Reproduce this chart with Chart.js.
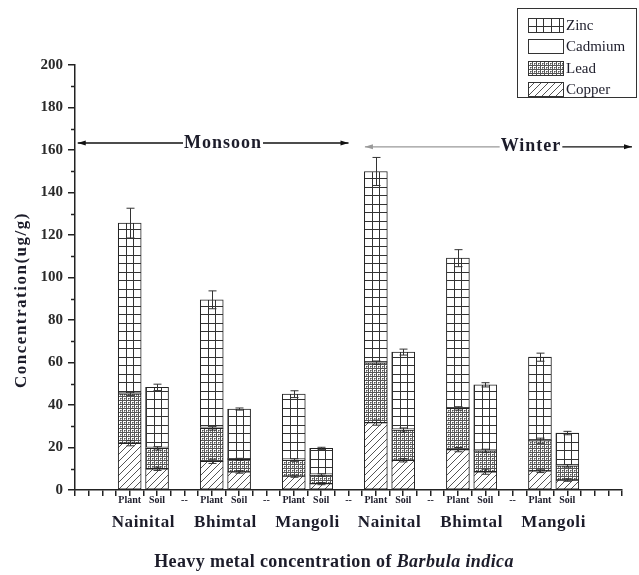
<!DOCTYPE html>
<html>
<head>
<meta charset="utf-8">
<script src="https://cdn.jsdelivr.net/npm/chart.js@4.4.1/dist/chart.umd.min.js"></script>
<style>
  body { margin: 0; background: #fff; }
  canvas { display: block; }
</style>
</head>
<body>
<canvas id="heavymetal" width="639" height="575"></canvas>
<script>
// data
const seasons = ['Monsoon', 'Winter'];
const sites = ['Nainital', 'Bhimtal', 'Mangoli', 'Nainital', 'Bhimtal', 'Mangoli'];
const samples = ['Plant', 'Soil'];
const yTicks = [0, 20, 40, 60, 80, 100, 120, 140, 160, 180, 200];

const copper = [22, 10, 13.5, 8.5, 6.5, 3, 31.7, 14, 19, 8.6, 9, 4.7];
const lead = [23.2, 9.6, 15.5, 5.9, 7.6, 4, 28.2, 14.2, 19.4, 9.8, 14.2, 6.7];
const cadmium = [0.4, 0.4, 0.4, 0.4, 0.4, 0.4, 0.4, 0.4, 0.4, 0.4, 0.4, 0.4];
const zinc = [80, 28.3, 60.1, 23.3, 30.6, 12.2, 89.6, 36.3, 70.3, 30.7, 38.9, 15];

const copperErr = [1.2, 0.8, 1, 0.6, 0.5, 0.5, 1.2, 0.8, 1, 1.2, 0.8, 0.6];
const leadErr = [0.8, 0.8, 0.8, 0.5, 0.6, 0.6, 0.8, 1, 0.8, 0.8, 1.2, 0.6];
const zincErr = [7, 1.5, 4.2, 0.5, 1.6, 0.5, 6.6, 1.4, 4, 1, 1.9, 0.8];

const FONT = 'Liberation Serif';
const BAR_W = 23;

// each site takes 3 slots on the x axis: plant, soil, gap
const xPos = [];
sites.forEach((s, i) => samples.forEach((t, j) => xPos.push(3 * i + 2 + j)));

function points(arr) {
  return arr.map((v, i) => ({ x: xPos[i], y: v }));
}

// hatch tiles
function makeTile(w, h, draw) {
  const c = document.createElement('canvas');
  c.width = w; c.height = h;
  const g = c.getContext('2d');
  g.fillStyle = '#fff';
  g.fillRect(0, 0, w, h);
  draw(g);
  return c;
}
const zincTile = makeTile(23, 17, (g) => {
  g.fillStyle = '#333';
  g.fillRect(0, 0, 23, 1); g.fillRect(0, 8, 23, 1);
  g.fillRect(0, 0, 1, 17); g.fillRect(8, 0, 1, 17); g.fillRect(15, 0, 1, 17);
});
const cadmiumTile = makeTile(4, 4, () => {});
const leadTile = makeTile(4, 4, (g) => {
  g.fillStyle = '#555';
  g.fillRect(0, 0, 4, 1); g.fillRect(0, 0, 1, 4);
  g.fillRect(2, 2, 1, 1);
  g.fillStyle = '#999';
  g.fillRect(3, 2, 1, 1); g.fillRect(2, 3, 1, 1);
});
const copperTile = makeTile(7, 7, (g) => {
  g.fillStyle = '#555';
  for (let i = 0; i < 7; i++) g.fillRect(i, 6 - i, 1, 1);
});

function fillFor(tile) {
  return function (c) {
    const g = c.chart.ctx;
    const p = g.createPattern(tile, 'repeat');
    const xs = c.chart.scales.x;
    if (xs && c.type === 'data') {
      const left = xs.getPixelForValue(xPos[c.dataIndex]) - BAR_W / 2;
      if (isFinite(left)) p.setTransform(new DOMMatrix().translate(Math.round(left), 0));
    }
    return p;
  };
}

function arrowHead(ctx, x, y, dir) {
  ctx.beginPath();
  ctx.moveTo(x, y);
  ctx.lineTo(x - dir * 8, y - 2.5);
  ctx.lineTo(x - dir * 8, y + 2.5);
  ctx.closePath();
  ctx.fill();
}

function seasonArrow(ctx, label, x1, x2, y, cx, leftColor) {
  ctx.font = 'bold 18px "' + FONT + '"';
  ctx.letterSpacing = '1px';
  const w = ctx.measureText(label).width;
  ctx.lineWidth = 1.3;
  ctx.strokeStyle = leftColor; ctx.fillStyle = leftColor;
  ctx.beginPath(); ctx.moveTo(x1, y); ctx.lineTo(cx - w / 2 - 1, y); ctx.stroke();
  arrowHead(ctx, x1, y, -1);
  ctx.strokeStyle = '#111'; ctx.fillStyle = '#111';
  ctx.beginPath(); ctx.moveTo(cx + w / 2 + 1, y); ctx.lineTo(x2, y); ctx.stroke();
  arrowHead(ctx, x2, y, 1);
  ctx.fillStyle = '#1c1c2a';
  ctx.textAlign = 'center'; ctx.textBaseline = 'middle';
  ctx.fillText(label, cx, y);
  ctx.letterSpacing = '0px';
}

const extras = {
  id: 'extras',
  afterDatasetsDraw(chart) {
    const { ctx, scales: { x, y } } = chart;
    ctx.save();
    ctx.strokeStyle = '#333';
    ctx.lineWidth = 1;
    const bar = (i, top, err) => {
      const px = Math.round(x.getPixelForValue(xPos[i])) + 0.5;
      const hi = y.getPixelForValue(top + err), lo = y.getPixelForValue(top - err);
      ctx.beginPath();
      ctx.moveTo(px, hi); ctx.lineTo(px, lo);
      ctx.moveTo(px - 4, hi); ctx.lineTo(px + 4, hi);
      ctx.moveTo(px - 4, lo); ctx.lineTo(px + 4, lo);
      ctx.stroke();
    };
    xPos.forEach((v, i) => {
      bar(i, copper[i], copperErr[i]);
      bar(i, copper[i] + lead[i], leadErr[i]);
      bar(i, copper[i] + lead[i] + cadmium[i] + zinc[i], zincErr[i]);
    });
    ctx.restore();
  },
  afterDraw(chart) {
    const { ctx, scales: { x, y } } = chart;
    const area = chart.chartArea;
    ctx.save();

    // minor y ticks
    ctx.strokeStyle = '#222';
    ctx.lineWidth = 1.5;
    for (let v = 10; v < 200; v += 20) {
      const py = Math.round(y.getPixelForValue(v)) + 0.5;
      ctx.beginPath(); ctx.moveTo(area.left - 4, py); ctx.lineTo(area.left, py); ctx.stroke();
    }

    // season arrows
    seasonArrow(ctx, seasons[0], x.getPixelForValue(0.1), x.getPixelForValue(10), y.getPixelForValue(163.3), 223, '#111');
    seasonArrow(ctx, seasons[1], x.getPixelForValue(10.6), 632, y.getPixelForValue(161.5), 531, '#999');

    // sample and site labels
    ctx.fillStyle = '#1c1c2a';
    ctx.textAlign = 'center';
    ctx.textBaseline = 'middle';
    ctx.font = 'bold 10px "' + FONT + '"';
    xPos.forEach((v, i) => ctx.fillText(samples[i % 2], x.getPixelForValue(v), 500));
    for (let s = 0; s < sites.length - 1; s++) ctx.fillText('--', x.getPixelForValue(3 * s + 4), 500);
    ctx.font = 'bold 17px "' + FONT + '"';
    ctx.letterSpacing = '0.6px';
    sites.forEach((s, i) => ctx.fillText(s, x.getPixelForValue(3 * i + 2.5), 523));
    ctx.letterSpacing = '0px';

    // x title
    const a = 'Heavy metal concentration of ', b = 'Barbula indica';
    ctx.letterSpacing = '0.4px';
    ctx.font = 'bold 18px "' + FONT + '"';
    const wa = ctx.measureText(a).width;
    ctx.font = 'bold italic 18px "' + FONT + '"';
    const wb = ctx.measureText(b).width;
    const sx = 334 - (wa + wb) / 2;
    ctx.textAlign = 'left';
    ctx.font = 'bold 18px "' + FONT + '"';
    ctx.fillText(a, sx, 562);
    ctx.font = 'bold italic 18px "' + FONT + '"';
    ctx.fillText(b, sx + wa, 562);

    // y title
    ctx.translate(22, 300);
    ctx.rotate(-Math.PI / 2);
    ctx.textAlign = 'center';
    ctx.font = 'bold 17px "' + FONT + '"';
    ctx.letterSpacing = '1.5px';
    ctx.fillText('Concentration(ug/g)', 0, 0);
    ctx.setTransform(1, 0, 0, 1, 0, 0);
    ctx.letterSpacing = '0px';

    // legend
    ctx.strokeStyle = '#333';
    ctx.lineWidth = 1;
    ctx.strokeRect(517.5, 8.5, 119, 89);
    const items = [['Zinc', zincTile], ['Cadmium', cadmiumTile], ['Lead', leadTile], ['Copper', copperTile]];
    ctx.font = '15px "' + FONT + '"';
    ctx.textAlign = 'left';
    items.forEach((it, k) => {
      const cy = 25 + k * 21.3;
      const top = Math.round(cy - 7) + 0.5;
      const p = ctx.createPattern(it[1], 'repeat');
      p.setTransform(new DOMMatrix().translate(528, top - 0.5));
      ctx.fillStyle = p;
      ctx.fillRect(528.5, top, 35, 14);
      ctx.strokeRect(528.5, top, 35, 14);
      ctx.fillStyle = '#1c1c2a';
      ctx.fillText(it[0], 566, cy + 1);
    });
    ctx.restore();
  }
};

const ctx = document.getElementById('heavymetal');

new Chart(ctx, {
  type: 'bar',
  data: {
    datasets: [
      { label: 'Copper', data: points(copper), backgroundColor: fillFor(copperTile) },
      { label: 'Lead', data: points(lead), backgroundColor: fillFor(leadTile) },
      { label: 'Cadmium', data: points(cadmium), backgroundColor: fillFor(cadmiumTile) },
      { label: 'Zinc', data: points(zinc), backgroundColor: fillFor(zincTile) }
    ]
  },
  options: {
    responsive: false,
    animation: false,
    datasets: {
      bar: { barThickness: BAR_W, borderColor: '#222', borderWidth: 1, borderSkipped: false }
    },
    layout: { padding: { top: 65, right: 17, left: 0, bottom: 0 } },
    plugins: { legend: { display: false }, tooltip: { enabled: false } },
    scales: {
      x: {
        type: 'linear', min: 0, max: 20, stacked: true, offset: false,
        afterFit: (s) => { s.height = 85; },
        ticks: { display: false, stepSize: 0.5, autoSkip: false },
        grid: { offset: false, drawOnChartArea: false, tickLength: 6, color: '#222', lineWidth: 1.5 },
        border: { color: '#222', width: 1.5 }
      },
      y: {
        min: yTicks[0], max: yTicks[yTicks.length - 1], stacked: true,
        afterFit: (s) => { s.width = 75; },
        afterBuildTicks: (s) => { s.ticks = yTicks.map((v) => ({ value: v })); },
        ticks: { font: { family: FONT, size: 15, weight: 'bold' }, color: '#2a2a2a', padding: 5 },
        grid: { drawOnChartArea: false, tickLength: 7, color: '#222', lineWidth: 1.5 },
        border: { color: '#222', width: 1.5 }
      }
    }
  },
  plugins: [extras]
});
</script>
</body>
</html>
